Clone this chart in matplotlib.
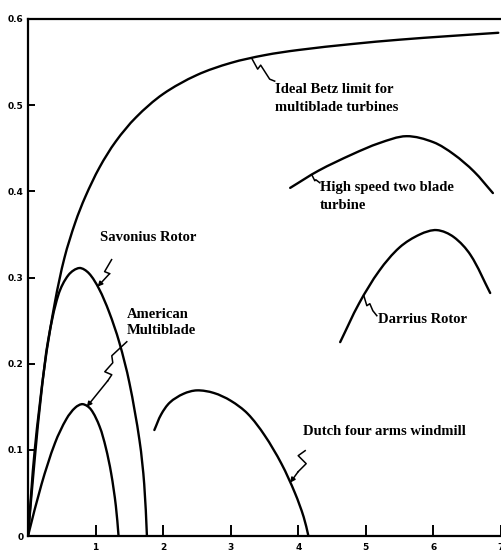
import numpy as np
import matplotlib.pyplot as plt
import matplotlib.transforms as mtransforms
from matplotlib.path import Path
from matplotlib.patches import PathPatch

# tip speed ratio (x) vs power coefficient (y)
betz_x = [0.0, 0.1, 0.25, 0.4, 0.54, 0.7, 0.85, 1.06, 1.3, 1.6, 2.0, 2.5, 3.0, 3.5, 4.0, 4.8, 5.5, 6.2, 6.96]
betz_y = [0.0, 0.1, 0.2, 0.272, 0.323, 0.364, 0.394, 0.428, 0.458, 0.486, 0.513, 0.535, 0.549, 0.558, 0.564, 0.571, 0.576, 0.580, 0.584]

savonius_x = [0.0, 0.1, 0.2, 0.3, 0.45, 0.6, 0.76, 0.9, 1.05, 1.2, 1.35, 1.5, 1.65, 1.72, 1.76]
savonius_y = [0.0, 0.09, 0.168, 0.228, 0.28, 0.303, 0.311, 0.305, 0.287, 0.26, 0.225, 0.178, 0.111, 0.06, 0.0]

american_x = [0.0, 0.2, 0.4, 0.57, 0.7, 0.81, 0.93, 1.06, 1.15, 1.23, 1.3, 1.34]
american_y = [0.0, 0.06, 0.108, 0.136, 0.149, 0.153, 0.147, 0.127, 0.103, 0.073, 0.035, 0.0]

dutch_x = [1.87, 1.97, 2.1, 2.3, 2.5, 2.75, 3.0, 3.25, 3.5, 3.75, 3.95, 4.08, 4.15]
dutch_y = [0.123, 0.141, 0.155, 0.165, 0.169, 0.166, 0.157, 0.142, 0.117, 0.084, 0.05, 0.022, 0.0]

twoblade_x = [3.88, 4.3, 4.8, 5.2, 5.6, 6.0, 6.3, 6.6, 6.88]
twoblade_y = [0.404, 0.424, 0.443, 0.456, 0.464, 0.457, 0.443, 0.423, 0.398]

darrius_x = [4.62, 4.9, 5.2, 5.5, 5.8, 6.05, 6.3, 6.55, 6.84]
darrius_y = [0.225, 0.27, 0.308, 0.335, 0.35, 0.355, 0.347, 0.326, 0.282]

x_ticks = [1, 2, 3, 4, 5, 6, 7]
y_ticks = [0, 0.1, 0.2, 0.3, 0.4, 0.5, 0.6]
y_tick_labels = ['0', '0.1', '0.2', '0.3', '0.4', '0.5', '0.6']

label_font = dict(family='Liberation Serif', weight='bold', fontsize=10.5)

# rough pixel scale of the axes, only used to space the smoothing handles
PX_PER_X = 68.0
PX_PER_Y = 862.0


def smooth_path(xs, ys):
    # chord-length catmull-rom through the read points, as bezier segments
    pts = np.column_stack([xs, ys]).astype(float)
    scaled = pts * [PX_PER_X, PX_PER_Y]
    t = np.concatenate([[0], np.cumsum(np.hypot(*np.diff(scaled, axis=0).T))])
    n = len(pts)
    tang = np.zeros_like(pts)
    for i in range(n):
        a, b = max(i - 1, 0), min(i + 1, n - 1)
        tang[i] = (pts[b] - pts[a]) / (t[b] - t[a])
    verts = [pts[0]]
    codes = [Path.MOVETO]
    for i in range(n - 1):
        h = t[i + 1] - t[i]
        verts += [pts[i] + tang[i] * h / 3, pts[i + 1] - tang[i + 1] * h / 3, pts[i + 1]]
        codes += [Path.CURVE4] * 3
    return Path(verts, codes)


def draw_curve(ax, xs, ys):
    ax.add_patch(PathPatch(smooth_path(xs, ys), fill=False, lw=1.7, ec='black',
                           capstyle='round', joinstyle='round'))


def squiggle(ax, xs, ys, tip_x, offsets, arrow=True):
    # zigzag leader; offsets are pixels from the tip (image y grows downward)
    tip = (tip_x, float(np.interp(tip_x, xs, ys)))
    trans = mtransforms.Affine2D().scale(1, -1) + mtransforms.ScaledTranslation(tip[0], tip[1], ax.transData)
    pts = np.array(offsets + [(0, 0)], dtype=float)
    if arrow:
        ax.plot(pts[:-1, 0], pts[:-1, 1], color='black', lw=1.1, transform=trans, clip_on=False)
        ax.annotate('', xy=tip, xycoords='data', xytext=(pts[-2, 0], -pts[-2, 1]),
                    textcoords='offset pixels',
                    arrowprops=dict(arrowstyle='-|>', color='black', lw=1.1,
                                    mutation_scale=7, shrinkA=0, shrinkB=0))
    else:
        ax.plot(pts[:, 0], pts[:, 1], color='black', lw=1.1, transform=trans, clip_on=False)


fig = plt.figure(figsize=(5.01, 5.55), dpi=100)
ax = fig.add_axes([28 / 501, 19 / 555, 473 / 501, 517 / 555])

for xs, ys in [(betz_x, betz_y), (savonius_x, savonius_y), (american_x, american_y),
               (dutch_x, dutch_y), (twoblade_x, twoblade_y), (darrius_x, darrius_y)]:
    draw_curve(ax, xs, ys)

ax.set_xlim(0, 473 / 68)
ax.set_ylim(0, 0.6)

ax.set_xticks(x_ticks)
ax.set_xticklabels([str(t) for t in x_ticks])
ax.set_yticks(y_ticks)
ax.set_yticklabels(y_tick_labels)
ax.tick_params(axis='x', direction='in', length=8, width=1.4, pad=5, labelsize=6.5)
ax.tick_params(axis='y', direction='in', length=5, width=1.4, pad=3, labelsize=6.5)
for lab in ax.get_xticklabels() + ax.get_yticklabels():
    lab.set_fontweight('bold')

for side in ['left', 'top', 'bottom']:
    ax.spines[side].set_linewidth(1.6)
ax.spines['right'].set_visible(False)

# labels with their zigzag leaders
ax.text(3.66, 0.5075, 'Ideal Betz limit for\nmultiblade turbines', va='center', ha='left',
        linespacing=1.45, **label_font)
squiggle(ax, betz_x, betz_y, 3.31, [(23, 23), (18, 21), (9, 7), (6, 11)], arrow=False)

ax.text(4.32, 0.394, 'High speed two blade\nturbine', va='center', ha='left',
        linespacing=1.45, **label_font)
squiggle(ax, twoblade_x, twoblade_y, 4.2, [(8, 8), (4, 5), (3, 6)], arrow=False)

ax.text(5.18, 0.251, 'Darrius Rotor', va='center', ha='left', **label_font)
squiggle(ax, darrius_x, darrius_y, 4.97, [(13, 20), (9, 15), (6, 8), (3, 10)], arrow=False)

ax.text(1.06, 0.347, 'Savonius Rotor', va='center', ha='left', **label_font)
squiggle(ax, savonius_x, savonius_y, 1.03, [(14, -27), (7, -15), (12, -13)])

ax.text(1.46, 0.248, 'American\nMultiblade', va='center', ha='left', linespacing=1.3, **label_font)
squiggle(ax, american_x, american_y, 0.87, [(40, -65), (25, -51), (26, -44), (18, -35), (25, -32), (21, -26)])

ax.text(4.07, 0.121, 'Dutch four arms windmill', va='center', ha='left', **label_font)
squiggle(ax, dutch_x, dutch_y, 3.88, [(15, -32), (8, -27), (16, -19), (8, -11)])

fig.savefig('out.png', dpi=100)
